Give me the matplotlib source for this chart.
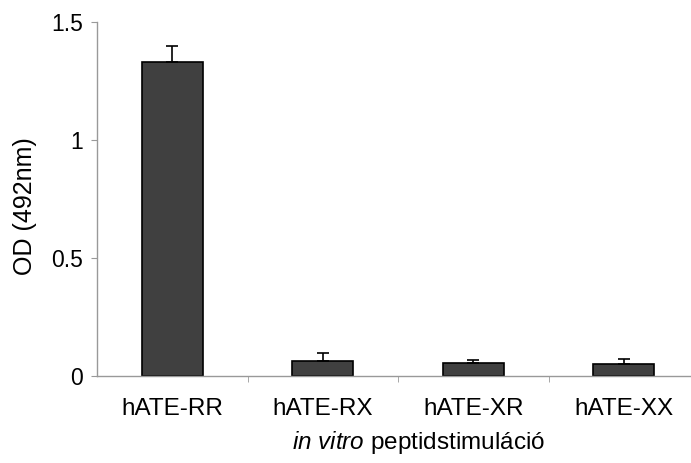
import numpy as np
import matplotlib
matplotlib.use('Agg')
import matplotlib.pyplot as plt

plt.rcParams['font.family'] = 'Liberation Sans'
plt.rcParams['mathtext.fontset'] = 'custom'
plt.rcParams['mathtext.rm'] = 'Liberation Sans'
plt.rcParams['mathtext.it'] = 'Liberation Sans:italic'

categories = ['hATE-RR', 'hATE-RX', 'hATE-XR', 'hATE-XX']
od_means = [1.33, 0.065, 0.056, 0.051]
od_err = [0.07, 0.034, 0.012, 0.02]

fig = plt.figure(figsize=(6.91, 4.63), dpi=100)
ax = fig.add_axes([0.1404, 0.1879, 0.8712, 0.7646])

x = np.arange(len(categories))
ax.bar(x, od_means, width=0.405, color='#404040', edgecolor='black', linewidth=1.2,
       yerr=[np.zeros(len(od_err)), od_err], capsize=4,
       error_kw=dict(ecolor='black', elinewidth=1.2, capthick=1.2))

ax.set_xlim(-0.5, 3.5)
ax.set_ylim(0, 1.5)
ax.set_yticks([0, 0.5, 1, 1.5])
ax.set_yticklabels(['0', '0.5', '1', '1.5'])
ax.set_xticks(x)
ax.set_xticklabels(categories)
ax.set_xticks([0.5, 1.5, 2.5], minor=True)
ax.tick_params(axis='x', which='major', length=0, pad=16, labelsize=17.5)
ax.tick_params(axis='x', which='minor', length=4, color='#999999', direction='out')
ax.tick_params(axis='y', length=4, color='#999999', labelsize=16.5, pad=6)

for side in ['top', 'right']:
    ax.spines[side].set_visible(False)
for side in ['left', 'bottom']:
    ax.spines[side].set_color('#999999')
    ax.spines[side].set_linewidth(1.0)

ax.set_ylabel('OD (492nm)', fontsize=18)
ax.yaxis.set_label_coords(-0.1, 0.48)
fig.text(0.605, 0.045, r'$\mathit{in\ vitro}$ peptidstimuláció', fontsize=17.5,
         ha='center', va='center')

fig.savefig('out.png', dpi=100)
